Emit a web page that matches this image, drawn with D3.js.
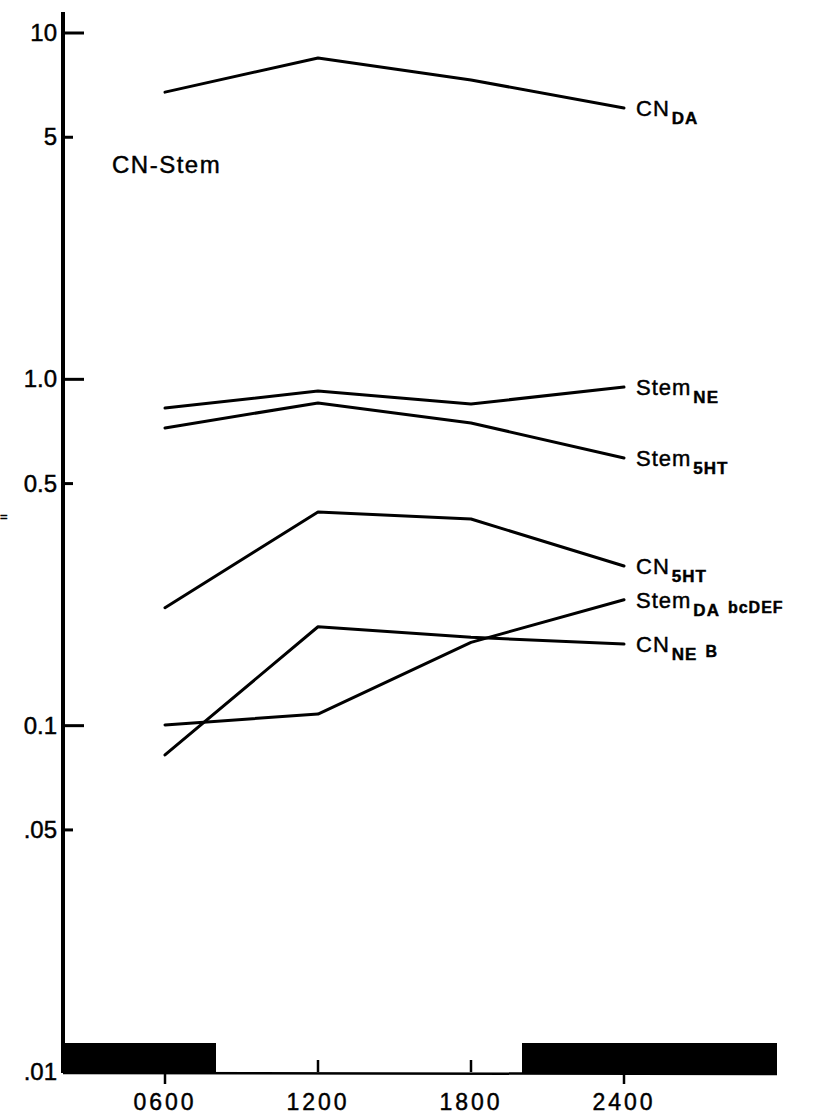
<!DOCTYPE html>
<html>
<head>
<meta charset="utf-8">
<script src="https://cdn.jsdelivr.net/npm/d3@7"></script>
<style>
  html, body { margin: 0; padding: 0; background: #fff; }
  svg { display: block; }
  text { font-family: "Liberation Sans", Arial, sans-serif; fill: #000; stroke: #000; stroke-width: 0.45px; }
</style>
</head>
<body>
<svg id="chart" width="821" height="1120"></svg>
<script>
// Clock hours at which samples were taken
const hours = [6, 12, 18, 24];

// Series values (ratio, log scale)
const cnDA    = [6.75, 8.47, 7.32, 6.07];
const stemNE  = [0.826, 0.925, 0.849, 0.95];
const stem5HT = [0.724, 0.855, 0.748, 0.593];
const cn5HT   = [0.219, 0.414, 0.395, 0.289];
const stemDA  = [0.1005, 0.108, 0.174, 0.231];
const cnNE    = [0.0823, 0.193, 0.180, 0.172];

// Series labels: main name, subscript, trailing note
const seriesNames = ["CN", "Stem", "Stem", "CN", "Stem", "CN"];
const seriesSubs  = ["DA", "NE", "5HT", "5HT", "DA", "NE"];
const seriesNotes = ["", "", "", "", "bcDEF", "B"];

// Axis ticks
const yMajorTicks = [10, 1, 0.1];
const yMinorTicks = [5, 0.5, 0.05];
const yTickLabels = [
  { v: 10, t: "10" }, { v: 5, t: "5" }, { v: 1, t: "1.0" }, { v: 0.5, t: "0.5" },
  { v: 0.1, t: "0.1" }, { v: 0.05, t: ".05" }, { v: 0.01, t: ".01" }
];
const xTicks = [6, 12, 18, 24];
const xTickLabels = ["0600", "1200", "1800", "2400"];

// Dark periods of the light cycle (hours, running past midnight as 24+)
const darkStart = [2, 20];
const darkEnd   = [8, 30];

const series = [cnDA, stemNE, stem5HT, cn5HT, stemDA, cnNE];

const svg = d3.select("#chart");

const x = d3.scaleLinear().domain([2, 30]).range([63, 777]);
const y = d3.scaleLog().domain([0.01, 10]).range([1072, 33]);

// ---- y axis ----
svg.append("line")
  .attr("x1", x(2)).attr("x2", x(2))
  .attr("y1", 12).attr("y2", y(0.01) + 1)
  .attr("stroke", "#000").attr("stroke-width", 4);

svg.selectAll("line.ymaj").data(yMajorTicks).join("line")
  .attr("class", "ymaj")
  .attr("x1", x(2)).attr("x2", x(2) + 21)
  .attr("y1", d => y(d)).attr("y2", d => y(d))
  .attr("stroke", "#000").attr("stroke-width", 3);

svg.selectAll("line.ymin").data(yMinorTicks).join("line")
  .attr("class", "ymin")
  .attr("x1", x(2)).attr("x2", x(2) + 10)
  .attr("y1", d => y(d)).attr("y2", d => y(d))
  .attr("stroke", "#000").attr("stroke-width", 3);

svg.selectAll("text.ylab").data(yTickLabels).join("text")
  .attr("class", "ylab")
  .attr("x", 57)
  .attr("y", d => y(d.v) + 8)
  .attr("text-anchor", "end")
  .attr("font-size", 24)
  .text(d => d.t);

// axis title fragment at far left edge
svg.append("text")
  .attr("x", 0).attr("y", 521)
  .attr("font-size", 13)
  .text("=");

// ---- x axis: baseline and light/dark bars ----
svg.append("line")
  .attr("x1", x(2)).attr("x2", x(30))
  .attr("y1", y(0.01) + 1).attr("y2", y(0.01) + 2)
  .attr("stroke", "#000").attr("stroke-width", 2.5);

svg.selectAll("rect.dark").data(darkStart).join("rect")
  .attr("class", "dark")
  .attr("x", (d) => x(d))
  .attr("width", (d, i) => x(darkEnd[i]) - x(d))
  .attr("y", y(0.01) - 29)
  .attr("height", 31)
  .attr("fill", "#000");

const inDark = h => darkStart.some((s, i) => h > s && h < darkEnd[i]);

svg.selectAll("line.xtick").data(xTicks).join("line")
  .attr("class", "xtick")
  .attr("x1", d => x(d)).attr("x2", d => x(d))
  .attr("y1", d => inDark(d) ? y(0.01) + 2 : y(0.01))
  .attr("y2", d => inDark(d) ? y(0.01) + 12 : y(0.01) - 12)
  .attr("stroke", "#000").attr("stroke-width", 2.5);

svg.selectAll("text.xlab").data(xTicks).join("text")
  .attr("class", "xlab")
  .attr("x", d => x(d))
  .attr("y", 1110)
  .attr("text-anchor", "middle")
  .attr("font-size", 23)
  .attr("letter-spacing", 3)
  .text((d, i) => xTickLabels[i]);

// ---- series lines ----
const line = d3.line()
  .x((d, i) => x(hours[i]))
  .y(d => y(d));

svg.selectAll("path.series").data(series).join("path")
  .attr("class", "series")
  .attr("d", line)
  .attr("fill", "none")
  .attr("stroke", "#000")
  .attr("stroke-width", 3)
  .attr("stroke-linejoin", "round")
  .attr("stroke-linecap", "round");

// ---- series labels at right end ----
const labels = svg.selectAll("text.slab").data(series).join("text")
  .attr("class", "slab")
  .attr("x", x(24) + 12)
  .attr("y", d => y(d[d.length - 1]) + 8)
  .attr("font-size", 22)
  .attr("letter-spacing", 1);

labels.append("tspan").text((d, i) => seriesNames[i]);
labels.append("tspan")
  .attr("dx", 2).attr("dy", 8)
  .attr("font-size", 17)
  .attr("font-weight", "bold")
  .text((d, i) => seriesSubs[i]);
labels.append("tspan")
  .attr("dx", 8).attr("dy", -3)
  .attr("font-size", 16)
  .attr("font-weight", "bold")
  .text((d, i) => seriesNotes[i]);

// ---- panel title ----
svg.append("text")
  .attr("x", 112).attr("y", 173)
  .attr("font-size", 24)
  .attr("letter-spacing", 1.5)
  .text("CN-Stem");
</script>
</body>
</html>
